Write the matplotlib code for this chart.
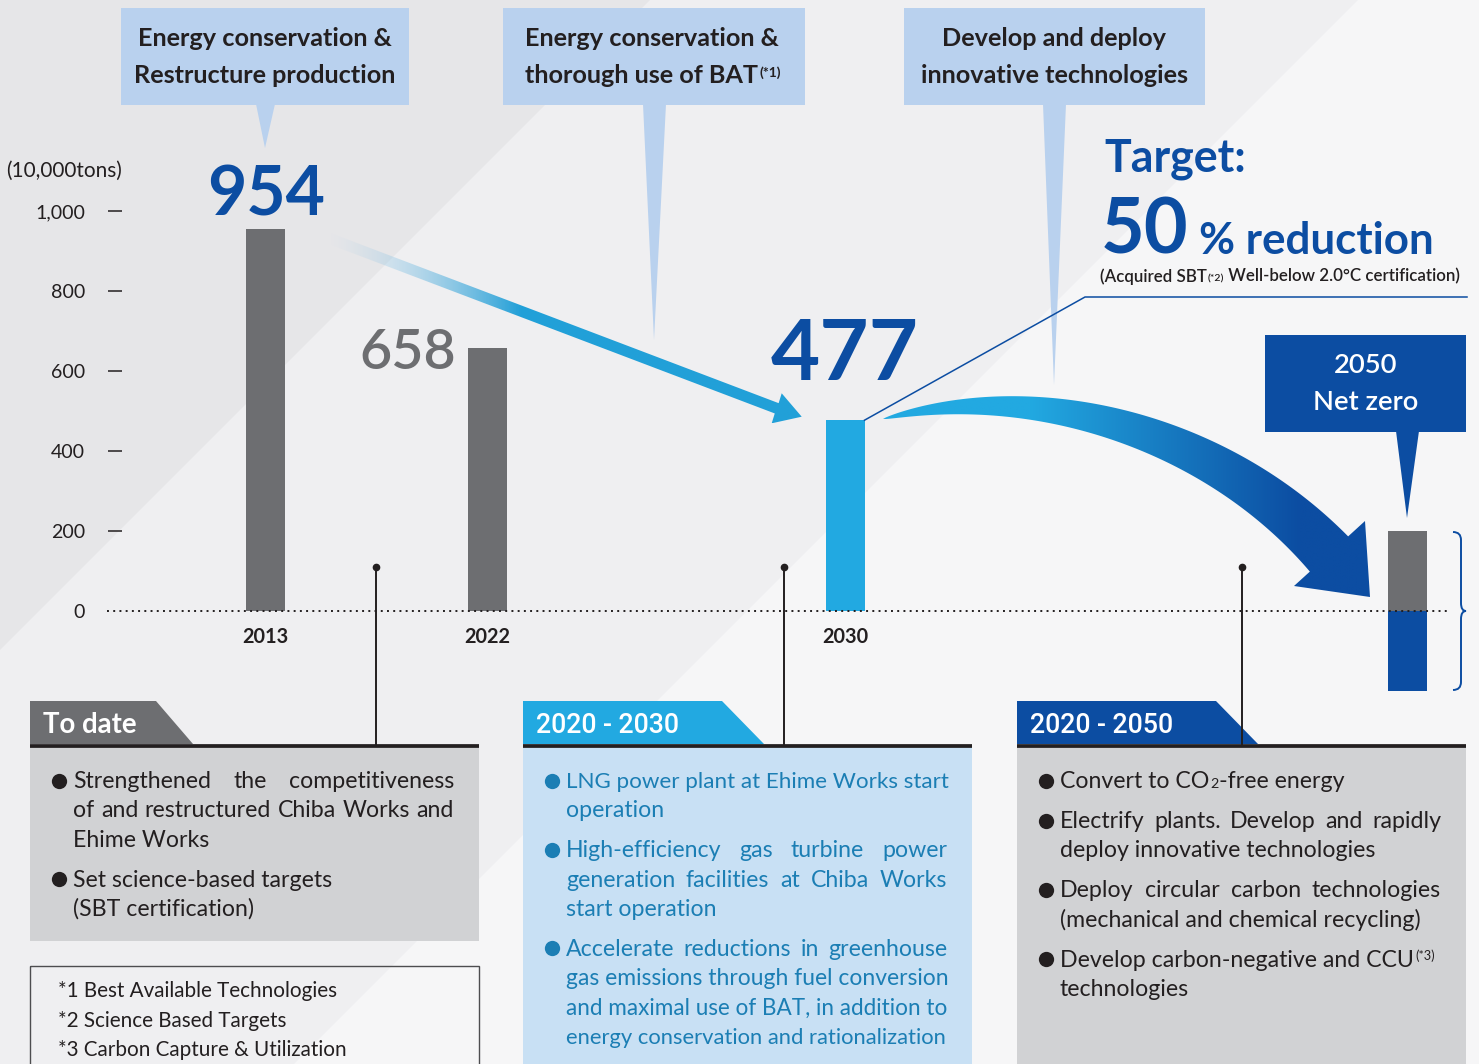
import re
import numpy as np
import matplotlib
matplotlib.use('Agg')
import matplotlib.pyplot as plt
from matplotlib.patches import Polygon, Rectangle, PathPatch
from matplotlib.path import Path
from matplotlib.colors import to_rgb

plt.rcParams['font.family'] = ['Lato', 'DejaVu Sans']

# CO2 emissions, 10,000 t
years = ['2013', '2022', '2030']
emissions = [954, 658, 477]
year_2050 = '2050'
residual_2050 = 199
removal_2050 = -199
yticks = [0, 200, 400, 600, 800, 1000]
ytick_labels = ['0', '200', '400', '600', '800', '1,000']
unit_label = '(10,000tons)'

measure_titles = [['Energy conservation &', 'Restructure production'],
                  ['Energy conservation &', 'thorough use of BAT^(*1)'],
                  ['Develop and deploy', 'innovative technologies']]
target_title = 'Target:'
target_pct = '50'
target_text = '% reduction'
target_note = '(Acquired SBT_(*2) Well-below 2.0°C certification)'
net_zero_lines = ['2050', 'Net zero']

phase_titles = ['To date', '2020 - 2030', '2020 - 2050']
phase_bullets = [
    [['Strengthened the competitiveness', 'of and restructured Chiba Works and', 'Ehime Works'],
     ['Set science-based targets', '(SBT certification)']],
    [['LNG power plant at Ehime Works start', 'operation'],
     ['High-efficiency gas turbine power', 'generation facilities at Chiba Works', 'start operation'],
     ['Accelerate reductions in greenhouse', 'gas emissions through fuel conversion',
      'and maximal use of BAT, in addition to', 'energy conservation and rationalization']],
    [['Convert to CO_2-free energy'],
     ['Electrify plants. Develop and rapidly', 'deploy innovative technologies'],
     ['Deploy circular carbon technologies', '(mechanical and chemical recycling)'],
     ['Develop carbon-negative and CCU^(*3)', 'technologies']],
]
footnotes = ['*1 Best Available Technologies', '*2 Science Based Targets',
             '*3 Carbon Capture & Utilization']

# colours
ink = '#231f20'
grey = '#6d6e71'
cyan = '#22a9e1'
navy = '#0c4da2'
pale = '#b9d1ee'
panel_grey = '#d1d2d4'
panel_blue = '#c8e0f4'
teal = '#1b7eb4'

W, H = 1479, 1064
fig = plt.figure(figsize=(W / 100, H / 100), dpi=100, facecolor='#efeff1')


def pixel_axes():
    a = fig.add_axes([0, 0, 1, 1])
    a.set_xlim(0, W)
    a.set_ylim(H, 0)
    a.set_autoscale_on(False)
    a.axis('off')
    return a


def gradient_fill(a, verts, x_from, x_to, c_from, c_to, a_from=1.0, a_to=1.0):
    verts = np.asarray(verts, float)
    poly = Polygon(verts, closed=True, fc='none', ec='none')
    a.add_patch(poly)
    x0, x1 = verts[:, 0].min(), verts[:, 0].max()
    y0, y1 = verts[:, 1].min(), verts[:, 1].max()
    xs = np.linspace(x0, x1, 400)
    f = np.clip((xs - x_from) / (x_to - x_from), 0, 1)
    c0, c1 = np.array(to_rgb(c_from)), np.array(to_rgb(c_to))
    img = np.ones((1, len(xs), 4))
    img[0, :, :3] = c0 + (c1 - c0) * f[:, None]
    img[0, :, 3] = a_from + (a_to - a_from) * f
    im = a.imshow(img, extent=(x0, x1, y1, y0), aspect='auto',
                  interpolation='bilinear', zorder=3)
    im.set_clip_path(poly)


# background bands
bg = pixel_axes()
bg.add_patch(Polygon([(0, 0), (650, 0), (0, 650)], fc='#e6e6e8', ec='none'))
bg.add_patch(Polygon([(1358, 0), (W, 0), (W, H), (1358 - H, H)], fc='#f6f6f7', ec='none'))

# straight arrow 2013 -> 2030
s = np.array([323, 236.0])
tip = np.array([801.7, 416.7])
u = (tip - s) / np.linalg.norm(tip - s)
n = np.array([-u[1], u[0]])
neck = np.array([776.7, 408.3])
hw = 5.5
arrow1 = [s - hw * n, neck - hw * n, (781.7, 393.3), tip, (771.7, 423.3), neck + hw * n, s + hw * n]
gradient_fill(bg, arrow1, 330, 520, '#b4d2ea', '#22a0d8', 0.0, 1.0)

# curved arrow 2030 -> 2050
P = np.array([[883, 419], [1033, 380], [1215, 430], [1329, 554]], float)
t = np.linspace(0, 1, 150)[:, None]
B = (1 - t) ** 3 * P[0] + 3 * (1 - t) ** 2 * t * P[1] + 3 * (1 - t) * t ** 2 * P[2] + t ** 3 * P[3]
D = 3 * (1 - t) ** 2 * (P[1] - P[0]) + 6 * (1 - t) * t * (P[2] - P[1]) + 3 * t ** 2 * (P[3] - P[2])
D /= np.linalg.norm(D, axis=1, keepdims=True)
N = np.column_stack([D[:, 1], -D[:, 0]])
wid = 26 * t ** 0.7
upper, lower = B + wid * N, B - wid * N
arrow2 = np.vstack([upper, [(1365, 521), (1370, 597), (1294, 586)], lower[::-1]])
gradient_fill(bg, arrow2, 1030, 1300, cyan, navy)

# bar chart axes: y in data units, x in pixels
y_zero, scale = 611, 0.4
left = 122
ax = fig.add_axes([left / W, 0, 1 - left / W, 1])
ax.set_xlim(left, W)
ax.set_ylim(-(H - y_zero) / scale, y_zero / scale)
ax.patch.set_visible(False)
for sp in ax.spines.values():
    sp.set_visible(False)

bar_x = [265, 487, 845]
x_2050 = 1407
bar_w = 39
ax.bar(bar_x, emissions, width=bar_w, color=[grey, grey, cyan], zorder=2)
ax.bar(x_2050, residual_2050, width=bar_w, color=grey, zorder=2)
ax.bar(x_2050, removal_2050, width=bar_w, color=navy, zorder=2)
ax.plot([107, 1447], [0, 0], color=ink, lw=1.4, ls=(0, (1, 2.2)), clip_on=False, zorder=3)

top = pixel_axes()
R = fig.canvas.get_renderer()
mark_re = r'(\^\(\*\d\)|_\(\*\d\)|_\d)'


def fitsize(s, width, **kw):
    tt = top.text(0, 0, s, fontsize=20, **kw)
    w = tt.get_window_extent(R).width
    tt.remove()
    return 20 * width / w


def runs(x, y, s, size, **kw):
    for piece in re.split(mark_re, s):
        if not piece:
            continue
        if piece[0] == '^':
            tt = top.text(x + 1, y - 0.38 * size, piece[1:], fontsize=size * 0.55, va='baseline', **kw)
        elif piece[0] == '_':
            tt = top.text(x + 1, y, piece[1:], fontsize=size * 0.62, va='baseline', **kw)
        else:
            tt = top.text(x, y, piece, fontsize=size, va='baseline', **kw)
        x = tt.get_window_extent(R).x1
    return x


def justify(x0, x1, y, s, size, **kw):
    words = s.split()
    ts = [top.text(0, y, wd, fontsize=size, va='baseline', **kw) for wd in words]
    ws = [tt.get_window_extent(R).width for tt in ts]
    gap = (x1 - x0 - sum(ws)) / (len(ws) - 1)
    x = x0
    for tt, w in zip(ts, ws):
        tt.set_x(x)
        x += w + gap


def body_line(x0, x1, y, s, size, last, **kw):
    if re.search(mark_re, s):
        runs(x0, y, s, size, **kw)
        return
    tt = top.text(0, 0, s, fontsize=size, **kw)
    w = tt.get_window_extent(R).width
    tt.remove()
    if w > x1 - x0:
        top.text(x0, y, s, fontsize=size * (x1 - x0) / w, va='baseline', **kw)
    elif not last and w > 0.88 * (x1 - x0):
        justify(x0, x1, y, s, size, **kw)
    else:
        top.text(x0, y, s, fontsize=size, va='baseline', **kw)


# axis ticks and labels
tick_size = fitsize('1,000', 50)
ax.set_xticks([])
ax.set_yticks(yticks, ytick_labels)
ax.tick_params(axis='y', length=10, width=1.1, color=ink, pad=16.5,
               labelsize=tick_size, labelcolor=ink)
ax.yaxis.get_major_ticks()[0].tick1line.set_visible(False)
top.text(6, 177, unit_label, fontsize=fitsize(unit_label, 116), color=ink, va='baseline')

year_size = fitsize('2013', 46, weight='bold')
for x, yr in zip(bar_x, years):
    ax.annotate(yr, (x, 0), xytext=(0, -32), textcoords='offset pixels', ha='center',
                va='baseline', fontsize=year_size, weight='bold', color=ink)

# value labels
ax.annotate(str(emissions[0]), (bar_x[0], emissions[0]), xytext=(1, 14), textcoords='offset pixels',
            ha='center', va='baseline', fontsize=fitsize('954', 118, weight='bold'),
            weight='bold', color=navy)
ax.annotate(str(emissions[1]), (bar_x[1] - bar_w / 2, emissions[1]), xytext=(-11, -21),
            textcoords='offset pixels', ha='right', va='baseline',
            fontsize=fitsize('658', 97, weight='semibold'), weight='semibold', color=grey)
ax.annotate(str(emissions[2]), (bar_x[2], emissions[2]), xytext=(0, 40), textcoords='offset pixels',
            ha='center', va='baseline', fontsize=fitsize('477', 148, weight='bold'),
            weight='bold', color=navy)

# measure boxes with pointers
title_size = fitsize('Restructure production', 262, weight='bold')
boxes = [(121, 288, 'center', (256, 275), (265, 148)),
         (503, 302, 'left', (643, 666), (654, 340)),
         (904, 301, 'center', (1043, 1066), (1054, 385))]
for (bx, bw, align, base, tp), lines in zip(boxes, measure_titles):
    top.add_patch(Rectangle((bx, 8), bw, 97, fc=pale, ec='none'))
    top.add_patch(Polygon([(base[0], 104), (base[1], 104), tp], fc=pale, ec='none'))
    for line, yb in zip(lines, (45.7, 83.3)):
        if align == 'center':
            top.text(bx + bw / 2, yb, line, ha='center', va='baseline', fontsize=title_size,
                     weight='bold', color=ink)
        else:
            runs(bx + 22, yb, line, title_size, weight='bold', color=ink)

# target block
top.text(1104, 171.7, target_title, fontsize=fitsize(target_title, 142, weight='bold'),
         weight='bold', color=navy, va='baseline')
top.text(1101, 254, target_pct, fontsize=fitsize(target_pct, 88, weight='bold'),
         weight='bold', color=navy, va='baseline')
top.text(1199, 254, target_text, fontsize=fitsize(target_text, 235, weight='bold'),
         weight='bold', color=navy, va='baseline')
note_size = fitsize(target_note.replace('_', ''), 368, weight='semibold')
runs(1100, 281.7, target_note, note_size, weight='semibold', color=ink)

corner = (bar_x[2] + bar_w / 2, y_zero - scale * emissions[2])
top.plot([corner[0], 1085, 1467], [corner[1], 297, 297], color=navy, lw=1.1)

# 2050 net zero box
top.add_patch(Rectangle((1265, 335), 201, 97, fc=navy, ec='none'))
top.add_patch(Polygon([(1396, 431), (1419, 431), (1407, 518)], fc=navy, ec='none'))
nz_size = fitsize('Net zero', 105, weight='semibold')
for line, yb in zip(net_zero_lines, (372.7, 410)):
    top.text(1366, yb, line, ha='center', va='baseline', fontsize=nz_size,
             weight='semibold', color='white')

# brace beside the 2050 bar
bv = [(1453, 532), (1461, 532), (1461, 540), (1461, 603), (1461, 611), (1466, 611),
      (1461, 611), (1461, 619), (1461, 682), (1461, 690), (1453, 690)]
bc = [Path.MOVETO, Path.CURVE3, Path.CURVE3, Path.LINETO, Path.CURVE3, Path.CURVE3,
      Path.CURVE3, Path.CURVE3, Path.LINETO, Path.CURVE3, Path.CURVE3]
top.add_patch(PathPatch(Path(bv, bc), fc='none', ec=navy, lw=1.4))

# connectors to the phase panels
for cx in (376, 784, 1242):
    top.plot([cx, cx], [567, 745], color=ink, lw=1.4)
    top.plot(cx, 567, 'o', ms=4.5, color=ink)

# phase panels
body_size = fitsize('(mechanical and chemical recycling)', 361)
tab_size = fitsize('2020 - 2030', 144, family='Roboto', weight='medium')
panels = [(30, 126, 37, grey, panel_grey, ink, 941),
          (523, 199, 42, cyan, panel_blue, teal, 1070),
          (1017, 199, 42, navy, panel_grey, ink, 1070)]
for i, (px, tw, sl, tab_c, fill, txt_c, bottom) in enumerate(panels):
    top.add_patch(Polygon([(px, 701), (px + tw, 701), (px + tw + sl, 744), (px, 744)],
                          fc=tab_c, ec='none'))
    top.add_patch(Rectangle((px, 747), 449, bottom - 747, fc=fill, ec='none'))
    top.plot([px, px + 449], [745.8, 745.8], color=ink, lw=2.7, solid_capstyle='butt')
    if i == 0:
        top.text(px + 13, 733.3, phase_titles[i], color='white', weight='bold',
                 fontsize=fitsize(phase_titles[i], 94, weight='bold'), va='baseline')
    else:
        top.text(px + 13, 733.3, phase_titles[i], color='white', family='Roboto',
                 weight='medium', fontsize=tab_size, va='baseline')
    y = 788
    for bullet in phase_bullets[i]:
        top.plot(px + 29, y - 7.5, 'o', ms=11, color=txt_c, mew=0)
        for k, line in enumerate(bullet):
            body_line(px + 43, px + 424, y, line, body_size, k == len(bullet) - 1, color=txt_c)
            y += 29.3
        y += 10.7

# footnotes
top.add_patch(Rectangle((30, 966), 449, 110, fc='none', ec='#4d4d4f', lw=1))
fn_size = fitsize(footnotes[0], 280)
for line, yb in zip(footnotes, (996.7, 1026.7, 1055.7)):
    top.text(58, yb, line, fontsize=fn_size, color=ink, va='baseline')

fig.savefig('out.png', dpi=100, facecolor=fig.get_facecolor())
